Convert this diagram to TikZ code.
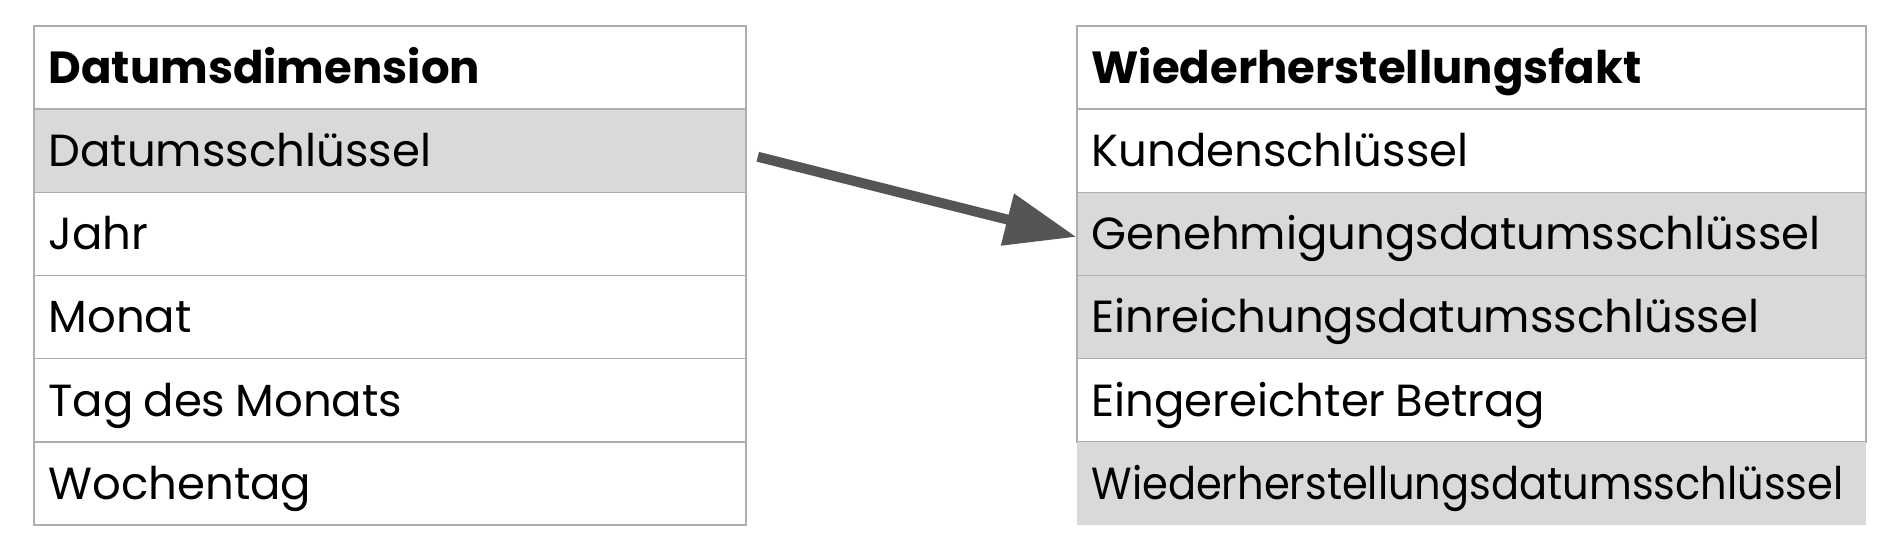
\documentclass[tikz,border=0pt]{standalone}
\usepackage{fontspec}
\usepackage{graphicx}
\setmainfont{Poppins}
\usetikzlibrary{arrows.meta}
\definecolor{bordergray}{HTML}{AEAEAE}
\definecolor{rowgray}{HTML}{D9D9D9}
\definecolor{arrowgray}{HTML}{555555}
\tikzset{
  cell/.style={draw=bordergray, line width=1.5pt, rectangle, minimum height=83.2pt,
    inner xsep=14.5pt, inner ysep=0pt, align=left, text height=31.4pt, text depth=0pt,
    font=\fontsize{45}{54}\selectfont, anchor=center,
    execute at begin node={\spaceskip=10pt plus 1pt\relax}},
  lcell/.style={cell, minimum width=712pt, text width=683pt},
  rcell/.style={cell, minimum width=789pt, text width=760pt},
  hl/.style={fill=rowgray},
  head/.style={font=\fontsize{45}{54}\selectfont\bfseries},
  conn/.style={draw=arrowgray, line width=10pt, -{Triangle[length=71pt,width=51pt]}}
}
\begin{document}
\begin{tikzpicture}[x=1pt,y=1pt]
\useasboundingbox[fill=white] (0,0) rectangle (1893,544);
% left table
\node[lcell,head] (l1) at (390,476.4) {Datumsdimension};
\node[lcell,hl]   (l2) at (390,393.25) {Datumsschlüssel};
\node[lcell]      (l3) at (390,310.1) {Jahr};
\node[lcell]      (l4) at (390,226.9) {Monat};
\node[lcell]      (l5) at (390,143.7) {Tag des Monats};
\node[lcell]      (l6) at (390,60.6) {Wochentag};
% right table
\node[rcell,head] (r1) at (1471.5,476.4) {Wiederherstellungsfakt};
\node[rcell]      (r2) at (1471.5,393.25) {Kundenschlüssel};
\node[rcell,hl]   (r3) at (1471.5,310.1) {Genehmigungsdatumsschlüssel};
\node[rcell,hl]   (r4) at (1471.5,226.9) {Einreichungsdatumsschlüssel};
\node[rcell]      (r5) at (1471.5,143.7) {Eingereichter Betrag};
\node[rcell,hl,draw=none] (r6) at (1471.5,60.6) {\resizebox{752pt}{\height}{Wiederherstellungsdatumsschlüssel}};
% connector
\coordinate (as) at ([xshift=11pt,yshift=-6pt]l2.east);
\coordinate (ae) at ([yshift=-3pt]r3.west);
\draw[conn] (as) -- (ae);
\end{tikzpicture}
\end{document}
